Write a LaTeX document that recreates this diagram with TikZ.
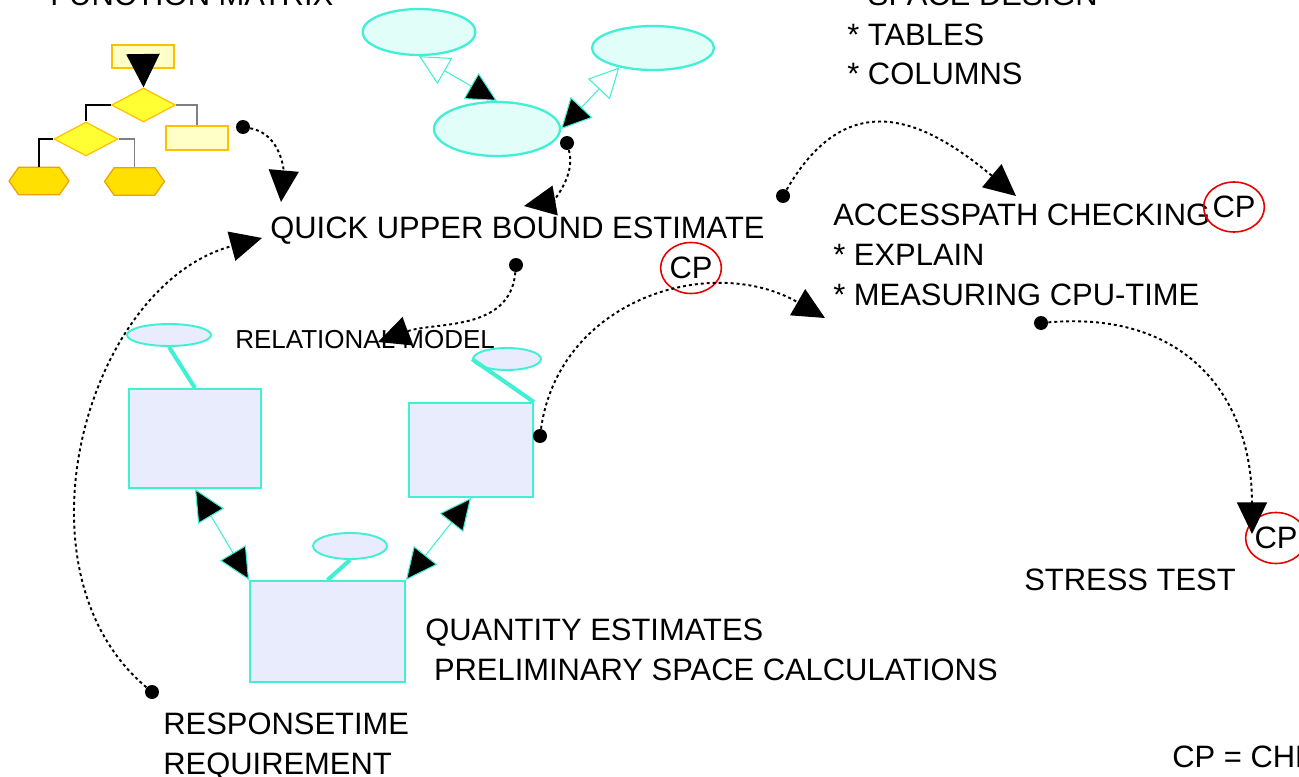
\documentclass[tikz,border=0pt]{standalone}
\usepackage{fontspec}
\setmainfont{Liberation Sans}
\usetikzlibrary{arrows.meta, shapes.geometric, shapes.symbols}
\definecolor{turq}{HTML}{40F0D4}
\definecolor{icefill}{HTML}{E2FEF8}
\definecolor{lavfill}{HTML}{E8ECFC}
\definecolor{paleyel}{HTML}{FFFFC8}
\definecolor{diayel}{HTML}{FFFF33}
\definecolor{hexgold}{HTML}{FFE000}
\definecolor{yelline}{HTML}{FFC000}
\definecolor{hexline}{HTML}{F0A000}
\definecolor{cpred}{HTML}{E80000}
\tikzstyle{txt} = [anchor=base west, inner sep=0, align=left, font=\fontsize{17.6}{22.7}\selectfont]
\tikzstyle{smalltxt} = [anchor=base west, inner sep=0, font=\fontsize{14.8}{18}\selectfont]
\tikzstyle{cp} = [ellipse, draw=cpred, line width=0.9pt, inner sep=0, font=\fontsize{17.6}{20}\selectfont]
\tikzstyle{dot} = [circle, fill=black, inner sep=0, minimum size=0.28cm]
\tikzstyle{flow} = [black, line width=1.1pt, dash pattern=on 1.7pt off 1.7pt, -{Triangle[length=18pt,width=17pt]}]
\tikzstyle{pbox} = [rectangle, draw=yelline, fill=paleyel, line width=0.7pt, inner sep=0]
\tikzstyle{fdia} = [diamond, draw=yelline, fill=diayel, line width=0.7pt, inner sep=0, minimum width=1.28cm, minimum height=0.68cm]
\tikzstyle{fhex} = [signal, signal to=west and east, signal pointer angle=110, draw=hexline, fill=hexgold, line width=0.7pt, inner sep=0, minimum width=1.2cm, minimum height=0.55cm]
\tikzstyle{ent} = [ellipse, draw=turq, fill=icefill, line width=1.3pt, inner sep=0]
\tikzstyle{tbl} = [rectangle, draw=turq, fill=lavfill, line width=1.1pt, inner sep=0]
\tikzstyle{attr} = [ellipse, draw=turq, fill=lavfill, line width=1.1pt, inner sep=0]
\tikzstyle{stem} = [turq, line width=2.3pt]
\tikzstyle{assoc} = [turq, line width=0.6pt, {Triangle[open,length=17pt,width=17pt]}-{Triangle[fill=black,length=17pt,width=17pt]}]
\tikzstyle{link} = [turq, line width=0.6pt, {Triangle[fill=black,length=18pt,width=17pt]}-{Triangle[fill=black,length=18pt,width=17pt]}]

\begin{document}
\begin{tikzpicture}[x=0.02cm, y=0.02cm]
	\path [use as bounding box, fill=white] (0,0) rectangle (1299,-777);
	\clip (0,0) rectangle (1299,-777);

	% function matrix
	\node (funcm) at (50,-6) [txt] {FUNCTION MATRIX};
	\node (frect1) at (143,-56.5) [pbox, minimum width=1.24cm, minimum height=0.46cm] {};
	\node (fdia1) at (143.5,-105) [fdia] {};
	\node (fdia2) at (86,-139) [fdia] {};
	\node (frect2) at (197,-138) [pbox, minimum width=1.24cm, minimum height=0.48cm] {};
	\node (fhex1) at (39,-181) [fhex] {};
	\node (fhex2) at (134.5,-181.5) [fhex] {};
	\draw [black, line width=0.7pt] (fdia1.west) -| (fdia2.north);
	\draw [gray, line width=0.7pt] (fdia1.east) -| (frect2.north);
	\draw [black, line width=0.7pt] (fdia2.west) -| (fhex1.north);
	\draw [gray, line width=0.7pt] (fdia2.east) -| (fhex2.north);
	\draw [black, line width=0.6pt, -{Triangle[length=19pt,width=19pt]}] (frect1.center) -- (fdia1.north);

	% space design
	\node (e1) at (419,-32) [ent, minimum width=2.26cm, minimum height=0.92cm] {};
	\node (e2) at (653,-48) [ent, minimum width=2.44cm, minimum height=0.88cm] {};
	\node (e3) at (497,-129) [ent, minimum width=2.52cm, minimum height=1.08cm] {};
	\draw [assoc] (e1.south) -- (e3.north);
	\draw [assoc] (e2.210) -- (e3.east);
	\node (space) at (847,-85) [txt] {\phantom{* }SPACE DESIGN\\* TABLES\\* COLUMNS};

	\node (quick) at (270,-238) [txt] {QUICK UPPER BOUND ESTIMATE};
	\node (access) at (833,-305) [txt] {ACCESSPATH CHECKING\\* EXPLAIN\\* MEASURING CPU-TIME};
	\node (cp1) at (1234,-207) [cp, minimum width=1.12cm, minimum height=1.0cm] {CP};
	\node (cp2) at (691,-268) [cp, minimum width=1.18cm, minimum height=1.02cm] {CP};
	\node (cp3) at (1276,-538) [cp, minimum width=1.04cm, minimum height=1.02cm] {CP};
	\node (stress) at (1024,-590) [txt] {STRESS TEST};
	\node (legend) at (1172,-767) [txt] {CP = CHECKPOINT};

	% relational model
	\node (rel) at (235,-348) [smalltxt] {RELATIONAL MODEL};
	\node (boxa) at (195,-438.5) [tbl, minimum width=2.64cm, minimum height=1.98cm] {};
	\node (boxb) at (471,-450) [tbl, minimum width=2.48cm, minimum height=1.88cm] {};
	\node (boxc) at (327.5,-631.5) [tbl, minimum width=3.1cm, minimum height=2.02cm] {};
	\node (ea) at (169,-335) [attr, minimum width=1.68cm, minimum height=0.44cm] {};
	\node (eb) at (507,-359) [attr, minimum width=1.36cm, minimum height=0.44cm] {};
	\node (ec) at (350,-546) [attr, minimum width=1.48cm, minimum height=0.52cm] {};
	\draw [stem] (ea.south) -- (boxa.north);
	\draw [stem] (eb.west) -- (boxb.north east);
	\draw [stem] (ec.south) -- (boxc.north);
	\draw [link] (boxa.south) -- (boxc.north west);
	\draw [link] (boxb.south) -- (boxc.north east);
	\node (qty) at (425,-680) [txt] {QUANTITY ESTIMATES\\\hspace*{0.28em}PRELIMINARY SPACE CALCULATIONS};
	\node (resp) at (163,-774) [txt] {RESPONSETIME\\REQUIREMENT};

	% checkpoints and flows
	\node (d1) at (243,-127) [dot] {};
	\node (d2) at (567,-143) [dot] {};
	\node (d3) at (516,-265) [dot] {};
	\node (d4) at (152,-692) [dot] {};
	\node (d5) at (540,-436) [dot] {};
	\node (d6) at (783,-196) [dot] {};
	\node (d7) at (1041,-323) [dot] {};
	\coordinate (a1) at (281,-202);
	\coordinate (a2) at (524,-206);
	\coordinate (a3) at (378,-342);
	\coordinate (a4) at (262,-238);
	\coordinate (a5) at (825,-318);
	\coordinate (a6) at (1016,-196);
	\coordinate (a7) at (1252,-534);
	\draw [flow] (d1) edge[out=-10,in=85] (a1);
	\draw [flow] (d2) edge[out=-75,in=10] (a2);
	\draw [flow] (d3) edge[out=-95,in=20] (a3);
	\draw [flow] (d4) edge[out=140,in=195] (a4);
	\draw [flow] (d5) edge[out=82,in=150,looseness=1.1] (a5);
	\draw [flow] (d6) edge[out=60,in=140,looseness=1.35] (a6);
	\draw [flow] (d7) edge[out=5,in=90,looseness=1.2] (a7);
\end{tikzpicture}
\end{document}
